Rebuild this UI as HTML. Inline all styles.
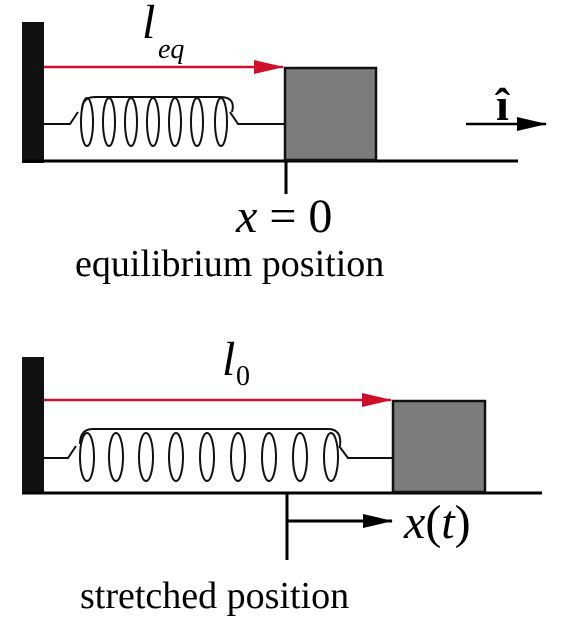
<!DOCTYPE html>
<html><head><meta charset="utf-8"><style>
html,body{margin:0;padding:0;background:#fff;width:566px;height:626px;overflow:hidden}
svg text{font-family:"Liberation Serif",serif}
</style></head><body>
<svg width="566" height="626" viewBox="0 0 566 626">
<defs>
<marker id="ab" markerWidth="30" markerHeight="14" refX="29" refY="7" orient="auto" markerUnits="userSpaceOnUse"><path d="M0,0 L30,7 L0,14z" fill="#000"/></marker>
<marker id="ar2" markerWidth="30" markerHeight="14" refX="29" refY="7" orient="auto" markerUnits="userSpaceOnUse"><path d="M0,0 L30,7 L0,14z" fill="#d0102a"/></marker>
</defs>
<g>
<rect x="22" y="22" width="22" height="141" fill="#111"/>
<line x1="22" y1="161" x2="518" y2="161" stroke="#000" stroke-width="3"/>
<line x1="44" y1="67" x2="283" y2="67" stroke="#d0102a" stroke-width="2.5" marker-end="url(#ar2)"/>
<rect x="285" y="68" width="91" height="92" fill="#7c7d7b" stroke="#111" stroke-width="2.5"/>
<line x1="286" y1="161" x2="286" y2="194" stroke="#000" stroke-width="3"/>
<g fill="none" stroke="#111" stroke-width="2">
<path d="M44,124 L70,124 L78,112 M230,112 L238,124 L284,124"/>
<path d="M82,110 Q82,97 95,97 L220,97 Q236,97 232,112"/>
<ellipse cx="87" cy="122" rx="6" ry="24"/><ellipse cx="109" cy="122" rx="6" ry="24"/><ellipse cx="131" cy="122" rx="6" ry="24"/><ellipse cx="153" cy="122" rx="6" ry="24"/><ellipse cx="175" cy="122" rx="6" ry="24"/><ellipse cx="197" cy="122" rx="6" ry="24"/><ellipse cx="221" cy="122" rx="6" ry="24"/>
</g>
<text x="142" y="38" font-size="48" font-style="italic">l</text>
<text x="158" y="58" font-size="28" font-style="italic">eq</text>
<text x="236" y="232" font-size="48"><tspan font-style="italic">x</tspan> = 0</text>
<text x="75" y="276" font-size="38">equilibrium position</text>
<text x="496" y="120" font-size="46" font-weight="bold">î</text>
<line x1="466" y1="124" x2="546" y2="124" stroke="#000" stroke-width="2.5" marker-end="url(#ab)"/>
</g>
<g>
<rect x="22" y="357" width="22" height="137" fill="#111"/>
<line x1="22" y1="493" x2="542" y2="493" stroke="#000" stroke-width="3"/>
<line x1="44" y1="400" x2="391" y2="400" stroke="#d0102a" stroke-width="2.5" marker-end="url(#ar2)"/>
<rect x="393" y="401" width="92" height="91" fill="#7c7d7b" stroke="#111" stroke-width="2.5"/>
<line x1="287" y1="493" x2="287" y2="560" stroke="#000" stroke-width="3"/>
<line x1="287" y1="521" x2="392" y2="521" stroke="#000" stroke-width="3" marker-end="url(#ab)"/>
<g fill="none" stroke="#111" stroke-width="2">
<path d="M44,458 L68,458 L76,446 M339,446 L348,458 L392,458"/>
<path d="M80,444 Q80,429 93,429 L328,429 Q342,429 340,446"/>
<ellipse cx="87" cy="457" rx="7" ry="24"/><ellipse cx="116" cy="457" rx="7" ry="24"/><ellipse cx="146" cy="457" rx="7" ry="24"/><ellipse cx="176" cy="457" rx="7" ry="24"/><ellipse cx="207" cy="457" rx="7" ry="24"/><ellipse cx="238" cy="457" rx="7" ry="24"/><ellipse cx="269" cy="457" rx="7" ry="24"/><ellipse cx="300" cy="457" rx="7" ry="24"/><ellipse cx="331" cy="457" rx="7" ry="24"/>
</g>
<text x="222" y="375" font-size="48" font-style="italic">l</text>
<text x="236" y="385" font-size="28">0</text>
<text x="404" y="538" font-size="48"><tspan font-style="italic">x</tspan>(<tspan font-style="italic">t</tspan>)</text>
<text x="80" y="608" font-size="38">stretched position</text>
</g>
</svg>
</body></html>
